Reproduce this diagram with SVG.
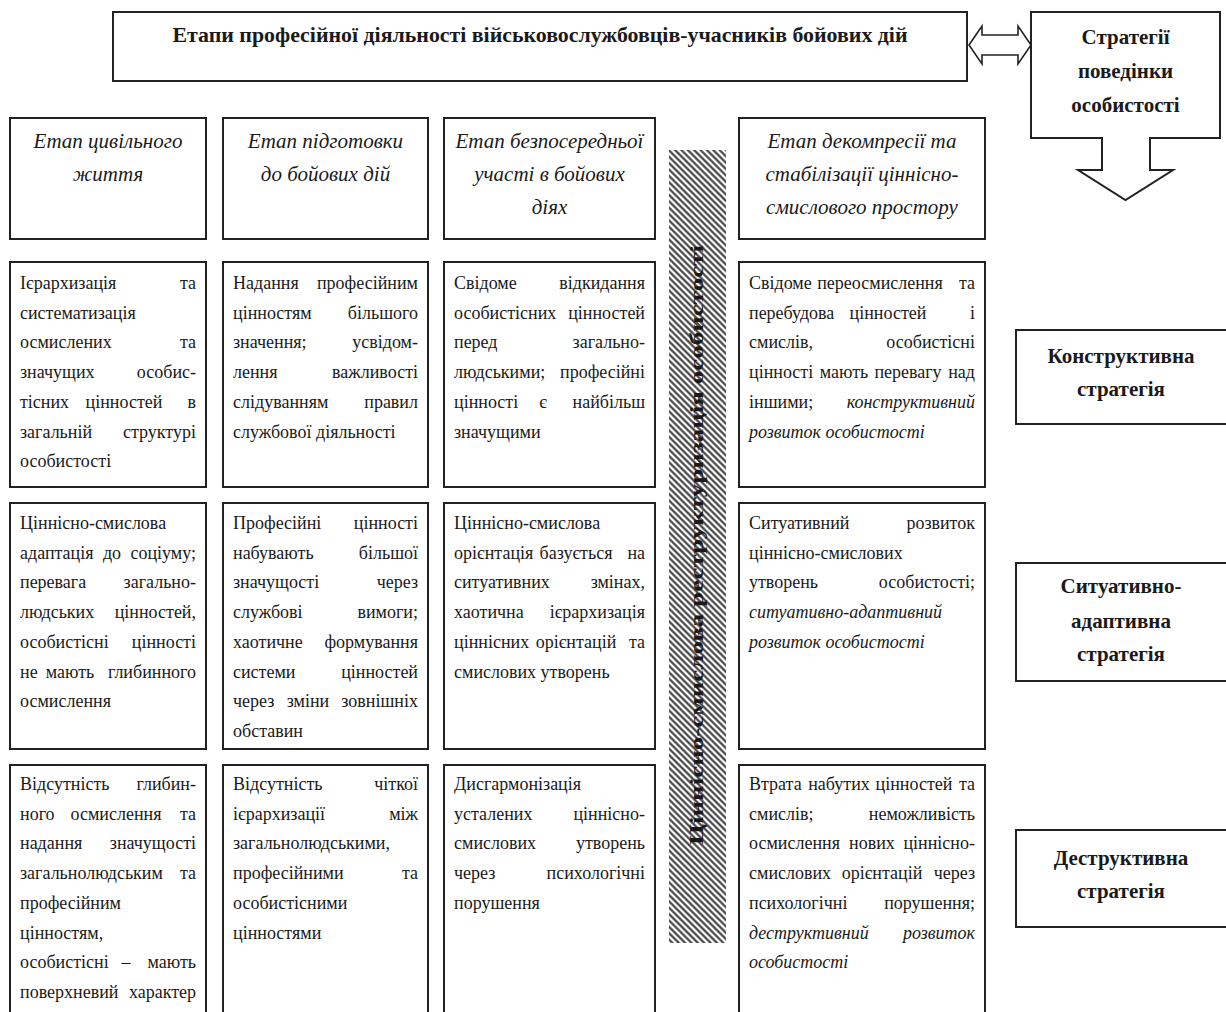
<svg xmlns="http://www.w3.org/2000/svg" width="1226" height="1012" viewBox="0 0 1226 1012">
<style>
.box{fill:#fff;stroke:#222;stroke-width:2}
.t{font-family:"Liberation Serif","Times New Roman",serif;font-size:18px;fill:#1a1a1a}
.r{text-anchor:end}
.m{text-anchor:middle}
.i{font-style:italic}
.h{font-size:21px;font-style:italic;text-anchor:middle}
.b{font-weight:bold;font-size:21px;text-anchor:middle}
.conn{fill:#fff;stroke:#222;stroke-width:1.6;stroke-linejoin:miter}
</style>
<defs>
<pattern id="hatch" width="4.5" height="4.5" patternUnits="userSpaceOnUse" patternTransform="rotate(45)">
<rect width="4.5" height="4.5" fill="#fff"/>
<line x1="0" y1="2.25" x2="4.5" y2="2.25" stroke="#3a3a3a" stroke-width="2.1"/>
</pattern>
</defs>
<rect width="1226" height="1012" fill="#fff"/>

<g id="title">
<rect class="box" x="113" y="12" width="854" height="69"/>
<text class="t b" x="540" y="42" font-size="20" textLength="735" lengthAdjust="spacingAndGlyphs">Етапи професійної діяльності військовослужбовців-учасників бойових дій</text>
</g>

<g id="strategies">
<path class="box" d="M1031,12 H1220 V138 H1150 V170 H1173 L1125.5,200 L1078,170 H1102 V138 H1031 Z"/>
<text class="t b" x="1125.5" y="44">Стратегії</text>
<text class="t b" x="1125.5" y="78">поведінки</text>
<text class="t b" x="1125.5" y="112">особистості</text>
</g>

<g id="connectors">
<path class="conn" d="M969,45 L982,26 V35 H1018 V26 L1031,45 L1018,64 V55 H982 V64 Z"/>
</g>

<g id="stage1">
<rect class="box" x="10" y="118" width="196" height="121"/>
<text class="t h" x="108" y="148">Етап цивільного</text>
<text class="t h" x="108" y="181">життя</text>
</g>
<g id="stage2">
<rect class="box" x="223" y="118" width="205" height="121"/>
<text class="t h" x="325.5" y="148">Етап підготовки</text>
<text class="t h" x="325.5" y="181">до бойових дій</text>
</g>
<g id="stage3">
<rect class="box" x="444" y="118" width="211" height="121"/>
<text class="t h" x="549.5" y="148">Етап безпосередньої</text>
<text class="t h" x="549.5" y="181">участі в бойових</text>
<text class="t h" x="549.5" y="214">діях</text>
</g>
<g id="stage4">
<rect class="box" x="739" y="118" width="246" height="121"/>
<text class="t h" x="862" y="148">Етап декомпресії та</text>
<text class="t h" x="862" y="181">стабілізації ціннісно-</text>
<text class="t h" x="862" y="214">смислового простору</text>
</g>

<g id="restructuring">
<rect x="669" y="150" width="57" height="793" fill="url(#hatch)"/>
<text class="t" font-weight="bold" font-size="20" text-anchor="middle" transform="translate(697.5,545) rotate(-90)" x="0" y="5" textLength="600" lengthAdjust="spacingAndGlyphs">Ціннісно-смислова реструктуризація особистості</text>
</g>

<g id="r1c1">
<rect class="box" x="10" y="262" width="196" height="225"/>
<text class="t" x="20" y="289">Ієрархизація</text><text class="t r" x="196" y="289">та</text>
<text class="t" x="20" y="318.7">систематизація</text>
<text class="t" x="20" y="348.4">осмислених</text><text class="t r" x="196" y="348.4">та</text>
<text class="t" x="20" y="378.1">значущих</text><text class="t r" x="196" y="378.1">особис-</text>
<text class="t" x="20" y="407.8">тісних</text><text class="t m" x="124" y="407.8">цінностей</text><text class="t r" x="196" y="407.8">в</text>
<text class="t" x="20" y="437.5">загальній</text><text class="t r" x="196" y="437.5">структурі</text>
<text class="t" x="20" y="467.2">особистості</text>
</g>
<g id="r1c2">
<rect class="box" x="223" y="262" width="205" height="225"/>
<text class="t" x="233" y="289">Надання</text><text class="t r" x="418" y="289">професійним</text>
<text class="t" x="233" y="318.7">цінностям</text><text class="t r" x="418" y="318.7">більшого</text>
<text class="t" x="233" y="348.4">значення;</text><text class="t r" x="418" y="348.4">усвідом-</text>
<text class="t" x="233" y="378.1">лення</text><text class="t r" x="418" y="378.1">важливості</text>
<text class="t" x="233" y="407.8">слідуванням</text><text class="t r" x="418" y="407.8">правил</text>
<text class="t" x="233" y="437.5">службової діяльності</text>
</g>
<g id="r1c3">
<rect class="box" x="444" y="262" width="211" height="225"/>
<text class="t" x="454" y="289">Свідоме</text><text class="t r" x="645" y="289">відкидання</text>
<text class="t" x="454" y="318.7">особистісних</text><text class="t r" x="645" y="318.7">цінностей</text>
<text class="t" x="454" y="348.4">перед</text><text class="t r" x="645" y="348.4">загально-</text>
<text class="t" x="454" y="378.1">людськими;</text><text class="t r" x="645" y="378.1">професійні</text>
<text class="t" x="454" y="407.8">цінності</text><text class="t m" x="543" y="407.8">є</text><text class="t r" x="645" y="407.8">найбільш</text>
<text class="t" x="454" y="437.5">значущими</text>
</g>
<g id="r1c4">
<rect class="box" x="739" y="262" width="246" height="225"/>
<text class="t" x="749" y="289">Свідоме</text><text class="t m" x="880" y="289">переосмислення</text><text class="t r" x="975" y="289">та</text>
<text class="t" x="749" y="318.7">перебудова</text><text class="t m" x="888" y="318.7">цінностей</text><text class="t r" x="975" y="318.7">і</text>
<text class="t" x="749" y="348.4">смислів,</text><text class="t r" x="975" y="348.4">особистісні</text>
<text class="t" x="749" y="378.1">цінності</text><text class="t m" x="844" y="378.1">мають</text><text class="t m" x="908" y="378.1">перевагу</text><text class="t r" x="975" y="378.1">над</text>
<text class="t" x="749" y="407.8">іншими;</text><text class="t r i" x="975" y="407.8">конструктивний</text>
<text class="t i" x="749" y="437.5">розвиток особистості</text>
</g>

<g id="r2c1">
<rect class="box" x="10" y="503" width="196" height="246"/>
<text class="t" x="20" y="529">Ціннісно-смислова</text>
<text class="t" x="20" y="558.7">адаптація</text><text class="t m" x="112" y="558.7">до</text><text class="t r" x="196" y="558.7">соціуму;</text>
<text class="t" x="20" y="588.4">перевага</text><text class="t r" x="196" y="588.4">загально-</text>
<text class="t" x="20" y="618.1">людських</text><text class="t r" x="196" y="618.1">цінностей,</text>
<text class="t" x="20" y="647.8">особистісні</text><text class="t r" x="196" y="647.8">цінності</text>
<text class="t" x="20" y="677.5">не</text><text class="t m" x="70" y="677.5">мають</text><text class="t r" x="196" y="677.5">глибинного</text>
<text class="t" x="20" y="707.2">осмислення</text>
</g>
<g id="r2c2">
<rect class="box" x="223" y="503" width="205" height="246"/>
<text class="t" x="233" y="529">Професійні</text><text class="t r" x="418" y="529">цінності</text>
<text class="t" x="233" y="558.7">набувають</text><text class="t r" x="418" y="558.7">більшої</text>
<text class="t" x="233" y="588.4">значущості</text><text class="t r" x="418" y="588.4">через</text>
<text class="t" x="233" y="618.1">службові</text><text class="t r" x="418" y="618.1">вимоги;</text>
<text class="t" x="233" y="647.8">хаотичне</text><text class="t r" x="418" y="647.8">формування</text>
<text class="t" x="233" y="677.5">системи</text><text class="t r" x="418" y="677.5">цінностей</text>
<text class="t" x="233" y="707.2">через</text><text class="t m" x="308" y="707.2">зміни</text><text class="t r" x="418" y="707.2">зовнішніх</text>
<text class="t" x="233" y="736.9">обставин</text>
</g>
<g id="r2c3">
<rect class="box" x="444" y="503" width="211" height="246"/>
<text class="t" x="454" y="529">Ціннісно-смислова</text>
<text class="t" x="454" y="558.7">орієнтація</text><text class="t m" x="576" y="558.7">базується</text><text class="t r" x="645" y="558.7">на</text>
<text class="t" x="454" y="588.4">ситуативних</text><text class="t r" x="645" y="588.4">змінах,</text>
<text class="t" x="454" y="618.1">хаотична</text><text class="t r" x="645" y="618.1">ієрархизація</text>
<text class="t" x="454" y="647.8">ціннісних</text><text class="t m" x="576" y="647.8">орієнтацій</text><text class="t r" x="645" y="647.8">та</text>
<text class="t" x="454" y="677.5">смислових утворень</text>
</g>
<g id="r2c4">
<rect class="box" x="739" y="503" width="246" height="246"/>
<text class="t" x="749" y="529">Ситуативний</text><text class="t r" x="975" y="529">розвиток</text>
<text class="t" x="749" y="558.7">ціннісно-смислових</text>
<text class="t" x="749" y="588.4">утворень</text><text class="t r" x="975" y="588.4">особистості;</text>
<text class="t i" x="749" y="618.1">ситуативно-адаптивний</text>
<text class="t i" x="749" y="647.8">розвиток особистості</text>
</g>

<g id="r3c1">
<rect class="box" x="10" y="765" width="196" height="252"/>
<text class="t" x="20" y="790">Відсутність</text><text class="t r" x="196" y="790">глибин-</text>
<text class="t" x="20" y="819.7">ного</text><text class="t m" x="116" y="819.7">осмислення</text><text class="t r" x="196" y="819.7">та</text>
<text class="t" x="20" y="849.4">надання</text><text class="t r" x="196" y="849.4">значущості</text>
<text class="t" x="20" y="879.1">загальнолюдським</text><text class="t r" x="196" y="879.1">та</text>
<text class="t" x="20" y="908.8">професійним</text>
<text class="t" x="20" y="938.5">цінностям,</text>
<text class="t" x="20" y="968.2">особистісні</text><text class="t m" x="126" y="968.2">–</text><text class="t r" x="196" y="968.2">мають</text>
<text class="t" x="20" y="997.9">поверхневий</text><text class="t r" x="196" y="997.9">характер</text>
</g>
<g id="r3c2">
<rect class="box" x="223" y="765" width="205" height="252"/>
<text class="t" x="233" y="790">Відсутність</text><text class="t r" x="418" y="790">чіткої</text>
<text class="t" x="233" y="819.7">ієрархизації</text><text class="t r" x="418" y="819.7">між</text>
<text class="t" x="233" y="849.4">загальнолюдськими,</text>
<text class="t" x="233" y="879.1">професійними</text><text class="t r" x="418" y="879.1">та</text>
<text class="t" x="233" y="908.8">особистісними</text>
<text class="t" x="233" y="938.5">цінностями</text>
</g>
<g id="r3c3">
<rect class="box" x="444" y="765" width="211" height="252"/>
<text class="t" x="454" y="790">Дисгармонізація</text>
<text class="t" x="454" y="819.7">усталених</text><text class="t r" x="645" y="819.7">ціннісно-</text>
<text class="t" x="454" y="849.4">смислових</text><text class="t r" x="645" y="849.4">утворень</text>
<text class="t" x="454" y="879.1">через</text><text class="t r" x="645" y="879.1">психологічні</text>
<text class="t" x="454" y="908.8">порушення</text>
</g>
<g id="r3c4">
<rect class="box" x="739" y="765" width="246" height="252"/>
<text class="t" x="749" y="790">Втрата</text><text class="t m" x="839" y="790">набутих</text><text class="t m" x="914" y="790">цінностей</text><text class="t r" x="975" y="790">та</text>
<text class="t" x="749" y="819.7">смислів;</text><text class="t r" x="975" y="819.7">неможливість</text>
<text class="t" x="749" y="849.4">осмислення</text><text class="t m" x="872" y="849.4">нових</text><text class="t r" x="975" y="849.4">ціннісно-</text>
<text class="t" x="749" y="879.1">смислових</text><text class="t m" x="882" y="879.1">орієнтацій</text><text class="t r" x="975" y="879.1">через</text>
<text class="t" x="749" y="908.8">психологічні</text><text class="t r" x="975" y="908.8">порушення;</text>
<text class="t i" x="749" y="938.5">деструктивний</text><text class="t r i" x="975" y="938.5">розвиток</text>
<text class="t i" x="749" y="968.2">особистості</text>
</g>

<g id="constructive">
<rect class="box" x="1016" y="330" width="212" height="94"/>
<text class="t b" x="1121" y="363">Конструктивна</text>
<text class="t b" x="1121" y="396">стратегія</text>
</g>
<g id="situational">
<rect class="box" x="1016" y="563" width="212" height="118"/>
<text class="t b" x="1121" y="593">Ситуативно-</text>
<text class="t b" x="1121" y="628">адаптивна</text>
<text class="t b" x="1121" y="661">стратегія</text>
</g>
<g id="destructive">
<rect class="box" x="1016" y="830" width="212" height="97"/>
<text class="t b" x="1121" y="865">Деструктивна</text>
<text class="t b" x="1121" y="898">стратегія</text>
</g>
</svg>
